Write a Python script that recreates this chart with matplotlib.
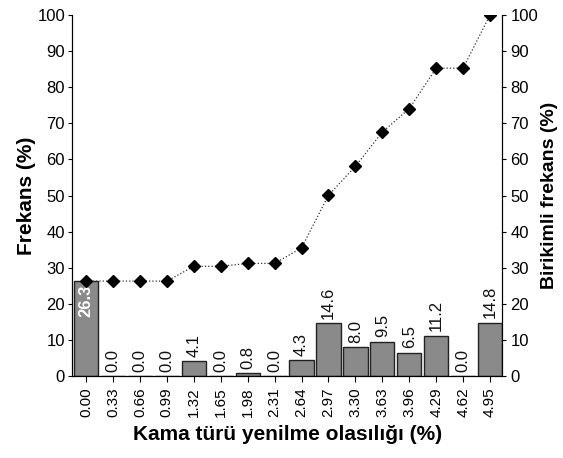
import matplotlib
matplotlib.use("Agg")
import matplotlib.pyplot as plt
import numpy as np

categories = ["0.00", "0.33", "0.66", "0.99", "1.32", "1.65", "1.98", "2.31",
              "2.64", "2.97", "3.30", "3.63", "3.96", "4.29", "4.62", "4.95"]
frequency = [26.3, 0.0, 0.0, 0.0, 4.1, 0.0, 0.8, 0.0,
             4.3, 14.6, 8.0, 9.5, 6.5, 11.2, 0.0, 14.8]
cumulative = [26.3, 26.3, 26.3, 26.3, 30.4, 30.4, 31.2, 31.2,
              35.5, 50.1, 58.1, 67.6, 74.1, 85.3, 85.3, 100.1]
yticks = list(range(0, 101, 10))

plt.rcParams['font.family'] = ['Liberation Sans Narrow', 'Liberation Sans', 'DejaVu Sans']

fig = plt.figure(figsize=(5.63, 4.58), dpi=100)
ax = fig.add_axes([0.128, 0.179, 0.764, 0.788])
x = np.arange(len(categories))

ax.bar(x, frequency, width=0.9, color='#8a8a8a', edgecolor='#222222', linewidth=1.0, zorder=2)
for xi, v in zip(x, frequency):
    if xi == 0:
        ax.text(xi, v - 1, f"{v:.1f}", rotation=90, ha='center', va='top',
                color='white', fontsize=12, fontweight='bold', zorder=3)
    else:
        ax.text(xi, v + 1.2, f"{v:.1f}", rotation=90, ha='center', va='bottom',
                color='#111111', fontsize=12, zorder=3)

ax.set_xlim(-0.52, len(categories) - 0.55)
ax.set_ylim(0, 100)
ax.set_yticks(yticks)
ax.set_xticks(x)
ax.set_xticklabels(categories, rotation=90, fontsize=11)
ax.tick_params(axis='y', labelsize=12, length=3, direction='out', pad=2)
ax.tick_params(axis='x', length=4, direction='out', pad=4)
ax.spines['top'].set_visible(False)
for s in ['left', 'bottom', 'right']:
    ax.spines[s].set_linewidth(0.8)
ax.set_ylabel("Frekans (%)", fontsize=15, fontweight='bold',
              family=['Liberation Sans', 'DejaVu Sans'], labelpad=1)
ax.set_xlabel("Kama türü yenilme olasılığı (%)", fontsize=15, fontweight='bold',
              family=['Liberation Sans', 'DejaVu Sans'], labelpad=6)

ax2 = ax.twinx()
ax2.set_position(ax.get_position())
ax2.plot(x, cumulative, linestyle=':', color='#333333', linewidth=0.9,
         marker='D', markersize=6, markerfacecolor='black', markeredgecolor='black', zorder=4)
ax2.set_ylim(0, 100)
ax2.set_yticks(yticks)
ax2.tick_params(axis='y', labelsize=12, length=3, pad=3)
ax2.spines['top'].set_visible(False)
ax2.spines['right'].set_linewidth(0.8)
ax2.set_ylabel("Birikimli frekans (%)", fontsize=14, fontweight='bold',
               family=['Liberation Sans', 'DejaVu Sans'], labelpad=2)

fig.savefig("out.png", dpi=100)
